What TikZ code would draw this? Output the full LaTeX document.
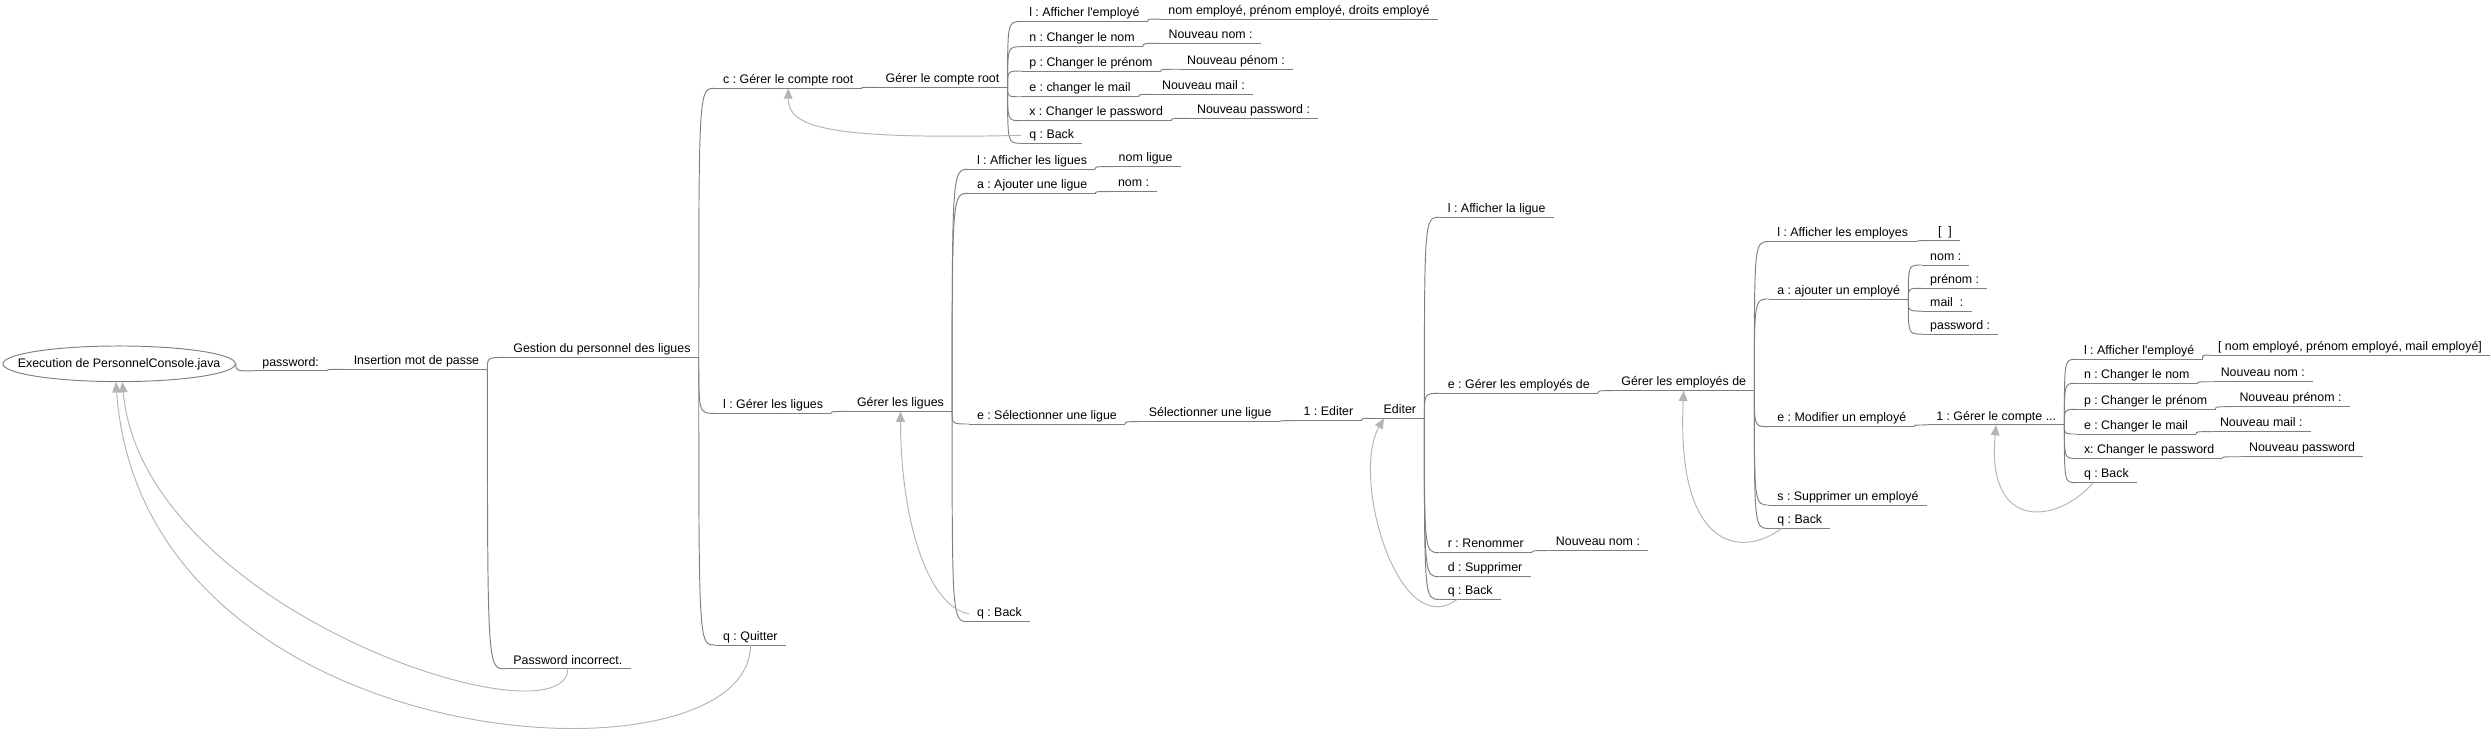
\documentclass[tikz,border=0pt]{standalone}
\usepackage{fontspec}
\setmainfont{Liberation Sans}
\usepackage{xcolor}
\usetikzlibrary{shapes.geometric,arrows.meta}
\frenchspacing

\definecolor{linegray}{HTML}{7F7F7F}
\definecolor{backgray}{HTML}{B4B4B4}

\tikzset{
  uline/.style={draw=linegray, line width=0.6pt},
  topic/.style={anchor=south west, inner xsep=5pt, inner ysep=0.8pt, text height=6pt, text depth=2pt,
    append after command={(\tikzlastnode.south west) edge[uline] (\tikzlastnode.south east)}},
  link/.style={uline, to path={.. controls (\tikztostart |- \tikztotarget) .. (\tikztotarget) \tikztonodes}},
  back/.style={draw=backgray, line width=0.6pt, -{Triangle[width=5.5pt,length=6.5pt]}}
}

\begin{document}
\begin{tikzpicture}[x=1pt, y=-1pt, font=\fontsize{7.8}{9}\selectfont]
  % Page the size of the reference
  \useasboundingbox (0,0) rectangle (1568,465);

  % Start and login
  \node[ellipse, uline, inner xsep=-12pt, inner ysep=4.3pt] (root) at (75,229) {Execution de PersonnelConsole.java};
  \node[topic] (pwd) at (160,233.5) {password:};
  \node[topic] (ins) at (217.5,232.5) {Insertion mot de passe};
  \node[topic] (gest) at (318,225) {Gestion du personnel des ligues};
  \node[topic] (pwi) at (318,421) {Password incorrect.};

  % Main menu
  \node[topic] (cgr) at (450,55.6) {c : Gérer le compte root};
  \node[topic] (lgl) at (450,260.2) {l : Gérer les ligues};
  \node[topic] (qqt) at (450,406) {q : Quitter};

  % Root account
  \node[topic] (gcr) at (552.3,55) {Gérer le compte root};
  \node[topic] (ra) at (642.7,13.6) {l : Afficher l\textquotesingle employé};
  \node[topic] (rn) at (642.7,29.4) {n : Changer le nom};
  \node[topic] (rp) at (642.7,44.7) {p : Changer le prénom};
  \node[topic] (re) at (642.7,60.9) {e : changer le mail};
  \node[topic] (rx) at (642.7,76) {x : Changer le password};
  \node[topic] (rq) at (642.7,90.2) {q : Back};
  \node[topic] (ra1) at (730.3,12) {nom employé, prénom employé, droits employé};
  \node[topic] (rn1) at (730.4,27.3) {Nouveau nom :};
  \node[topic] (rp1) at (742,43.6) {Nouveau pénom :};
  \node[topic] (re1) at (726.3,59.4) {Nouveau mail :};
  \node[topic] (rx1) at (748.3,74.5) {Nouveau password :};

  % Leagues
  \node[topic] (gli) at (534.3,259) {Gérer les ligues};
  \node[topic] (la) at (609.8,106.6) {l : Afficher les ligues};
  \node[topic] (laj) at (609.8,121.7) {a : Ajouter une ligue};
  \node[topic] (lsel) at (609.8,266.9) {e : Sélectionner une ligue};
  \node[topic] (lq) at (609.8,391.3) {q : Back};
  \node[topic] (la1) at (699,104.9) {nom ligue};
  \node[topic] (laj1) at (698.6,120.6) {nom :};
  \node[topic] (sli) at (718,265.4) {Sélectionner une ligue};
  \node[topic] (ed1) at (815.4,264.8) {1 : Editer};
  \node[topic] (edt) at (865.8,263.3) {Editer};

  % Editing one league
  \node[topic] (eaf) at (906.2,136.8) {l : Afficher la ligue};
  \node[topic] (eemp) at (906.2,247.6) {e : Gérer les employés de};
  \node[topic] (eren) at (906.2,347.9) {r : Renommer};
  \node[topic] (esup) at (906.2,363) {d : Supprimer};
  \node[topic] (eq) at (906.2,377.3) {q : Back};
  \node[topic] (eren1) at (974.2,346.6) {Nouveau nom :};
  \node[topic] (gem) at (1015.4,245.9) {Gérer les employés de};

  % Employees of the league
  \node[topic] (mlist) at (1113.6,152.1) {l : Afficher les employes};
  \node[topic] (madd) at (1113.6,188.2) {a : ajouter un employé};
  \node[topic] (mmod) at (1113.6,268.6) {e : Modifier un employé};
  \node[topic] (msup) at (1113.6,317.9) {s : Supprimer un employé};
  \node[topic] (mq) at (1113.6,332.6) {q : Back};
  \node[topic] (mlist1) at (1214.7,151.5) {[~~]};
  \node[topic] (mnom) at (1209.8,166.8) {nom :};
  \node[topic] (mpre) at (1209.8,181.5) {prénom :};
  \node[topic] (mmail) at (1209.8,195.8) {mail\ \ :};
  \node[topic] (mpwd) at (1209.8,210.3) {password :};
  \node[topic] (gc1) at (1213.6,267.5) {1 : Gérer le compte ...};

  % Account of one employee
  \node[topic] (ca) at (1306.6,226.2) {l : Afficher l\textquotesingle employé};
  \node[topic] (cn) at (1306.6,241.3) {n : Changer le nom};
  \node[topic] (cp) at (1306.6,257.7) {p : Changer le prénom};
  \node[topic] (ce) at (1306.6,273.2) {e : Changer le mail};
  \node[topic] (cx) at (1306.6,288.5) {x: Changer le password};
  \node[topic] (cq) at (1306.6,303.8) {q : Back};
  \node[topic] (ca1) at (1391,223.5) {[ nom employé, prénom employé, mail employé]};
  \node[topic] (cn1) at (1392.7,240.3) {Nouveau nom :};
  \node[topic] (cp1) at (1404.5,256) {Nouveau prénom :};
  \node[topic] (ce1) at (1392.2,271.7) {Nouveau mail :};
  \node[topic] (cx1) at (1410.5,287.5) {Nouveau password};

  % Tree links
  \draw[link] (root.east) to (pwd.south west);
  \draw[link] (pwd.south east) to (ins.south west);
  \draw[link] (ins.south east) to (gest.south west);
  \draw[link] (ins.south east) to (pwi.south west);
  \draw[link] (gest.south east) to (cgr.south west);
  \draw[link] (gest.south east) to (lgl.south west);
  \draw[link] (gest.south east) to (qqt.south west);

  \draw[link] (cgr.south east) to (gcr.south west);
  \draw[link] (gcr.south east) to (ra.south west);
  \draw[link] (gcr.south east) to (rn.south west);
  \draw[link] (gcr.south east) to (rp.south west);
  \draw[link] (gcr.south east) to (re.south west);
  \draw[link] (gcr.south east) to (rx.south west);
  \draw[link] (gcr.south east) to (rq.south west);
  \draw[link] (ra.south east) to (ra1.south west);
  \draw[link] (rn.south east) to (rn1.south west);
  \draw[link] (rp.south east) to (rp1.south west);
  \draw[link] (re.south east) to (re1.south west);
  \draw[link] (rx.south east) to (rx1.south west);

  \draw[link] (lgl.south east) to (gli.south west);
  \draw[link] (gli.south east) to (la.south west);
  \draw[link] (gli.south east) to (laj.south west);
  \draw[link] (gli.south east) to (lsel.south west);
  \draw[link] (gli.south east) to (lq.south west);
  \draw[link] (la.south east) to (la1.south west);
  \draw[link] (laj.south east) to (laj1.south west);
  \draw[link] (lsel.south east) to (sli.south west);
  \draw[link] (sli.south east) to (ed1.south west);
  \draw[link] (ed1.south east) to (edt.south west);

  \draw[link] (edt.south east) to (eaf.south west);
  \draw[link] (edt.south east) to (eemp.south west);
  \draw[link] (edt.south east) to (eren.south west);
  \draw[link] (edt.south east) to (esup.south west);
  \draw[link] (edt.south east) to (eq.south west);
  \draw[link] (eren.south east) to (eren1.south west);
  \draw[link] (eemp.south east) to (gem.south west);

  \draw[link] (gem.south east) to (mlist.south west);
  \draw[link] (gem.south east) to (madd.south west);
  \draw[link] (gem.south east) to (mmod.south west);
  \draw[link] (gem.south east) to (msup.south west);
  \draw[link] (gem.south east) to (mq.south west);
  \draw[link] (mlist.south east) to (mlist1.south west);
  \draw[link] (madd.south east) to (mnom.south west);
  \draw[link] (madd.south east) to (mpre.south west);
  \draw[link] (madd.south east) to (mmail.south west);
  \draw[link] (madd.south east) to (mpwd.south west);
  \draw[link] (mmod.south east) to (gc1.south west);

  \draw[link] (gc1.south east) to (ca.south west);
  \draw[link] (gc1.south east) to (cn.south west);
  \draw[link] (gc1.south east) to (cp.south west);
  \draw[link] (gc1.south east) to (ce.south west);
  \draw[link] (gc1.south east) to (cx.south west);
  \draw[link] (gc1.south east) to (cq.south west);
  \draw[link] (ca.south east) to (ca1.south west);
  \draw[link] (cn.south east) to (cn1.south west);
  \draw[link] (cp.south east) to (cp1.south west);
  \draw[link] (ce.south east) to (ce1.south west);
  \draw[link] (cx.south east) to (cx1.south west);

  % Back arrows
  \draw[back] (pwi.south) .. controls (356,470) and (90,385) .. ([xshift=2pt]root.south);
  \draw[back] (qqt.south) .. controls (473,500) and (90,480) .. ([xshift=-2pt]root.south);
  \draw[back] (rq.west) .. controls (520,88) and (496,80) .. (cgr.south);
  \draw[back] (lq.west) .. controls (585,382) and (567,330) .. (gli.south);
  \draw[back] ([xshift=11pt]eq.south west) .. controls (880,405) and (850,300) .. ([xshift=-10pt]edt.south);
  \draw[back] ([xshift=8pt]mq.south west) .. controls (1095,352) and (1055,345) .. (gem.south);
  \draw[back] ([xshift=11pt]cq.south west) .. controls (1295,330) and (1250,335) .. (gc1.south);
\end{tikzpicture}
\end{document}
